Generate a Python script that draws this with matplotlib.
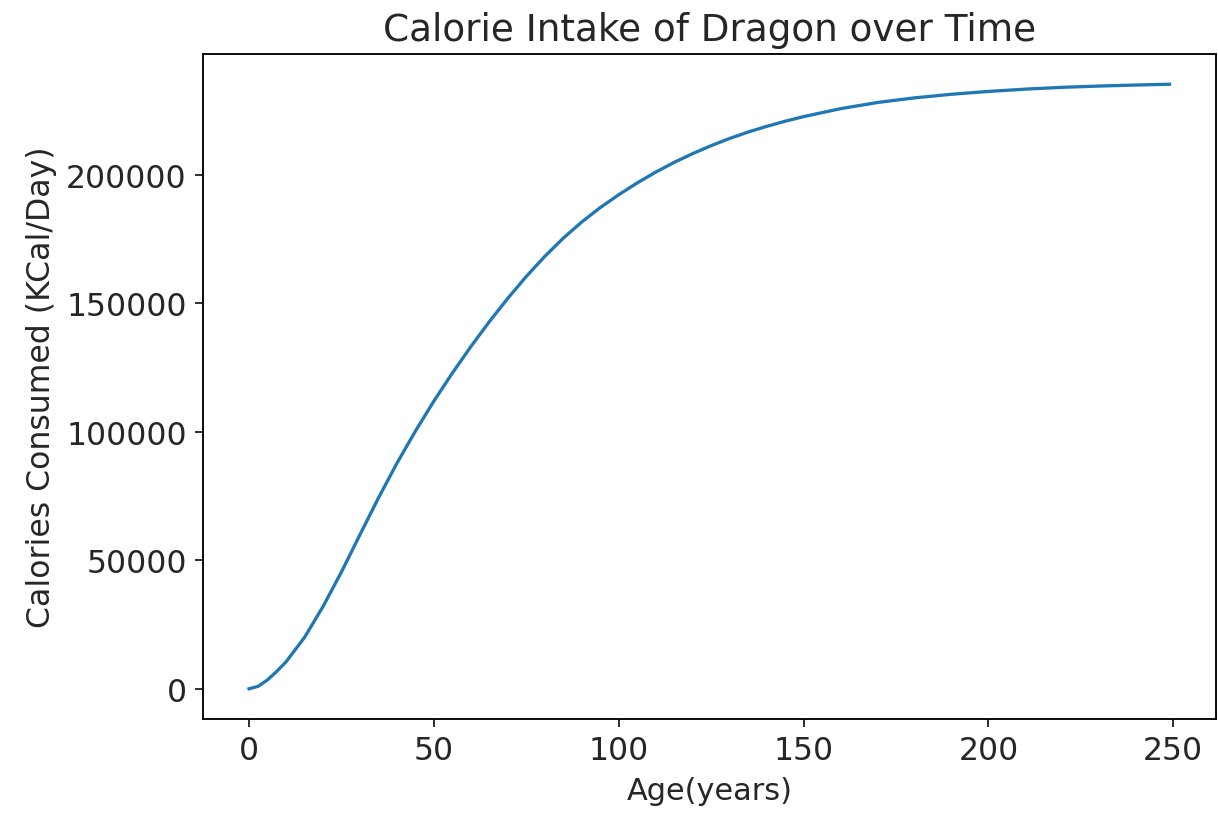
import matplotlib
matplotlib.use('Agg')
import matplotlib.pyplot as plt

ages = [0, 2.5, 5, 7.5, 10, 15, 20, 25, 30, 35, 40, 45, 50, 55, 60, 65, 70,
        75, 80, 85, 90, 95, 100, 105, 110, 115, 120, 125, 130, 135, 140,
        145, 150, 160, 170, 180, 190, 200, 210, 220, 230, 240, 249]
calories = [0, 1000, 3500, 6800, 10500, 20000, 32000, 45500, 60000, 74300,
            87800, 100300, 112000, 122900, 133200, 142900, 152000, 160500,
            168300, 175400, 181700, 187300, 192300, 196900, 201100, 204900,
            208300, 211400, 214200, 216700, 218900, 220900, 222700,
            225800, 228200, 230000, 231400, 232500, 233400, 234100, 234600,
            235000, 235300]

plt.rcParams['text.color'] = '#262626'
plt.rcParams['axes.labelcolor'] = '#262626'
plt.rcParams['xtick.color'] = '#262626'
plt.rcParams['ytick.color'] = '#262626'

fig = plt.figure(figsize=(7.25, 4.857), dpi=168)
plt.subplots_adjust(left=0.1667, right=0.998, top=0.9326, bottom=0.1176)

plt.plot(ages, calories, color='#1f77b4', linewidth=1.4)
plt.title('Calorie Intake of Dragon over Time', fontsize=16)
plt.xlabel('Age(years)', fontsize=13)
plt.ylabel('Calories Consumed (KCal/Day)', fontsize=13.5)
plt.xticks(fontsize=13.5)
plt.yticks(fontsize=13.5)

plt.savefig('out.png', dpi=168)
